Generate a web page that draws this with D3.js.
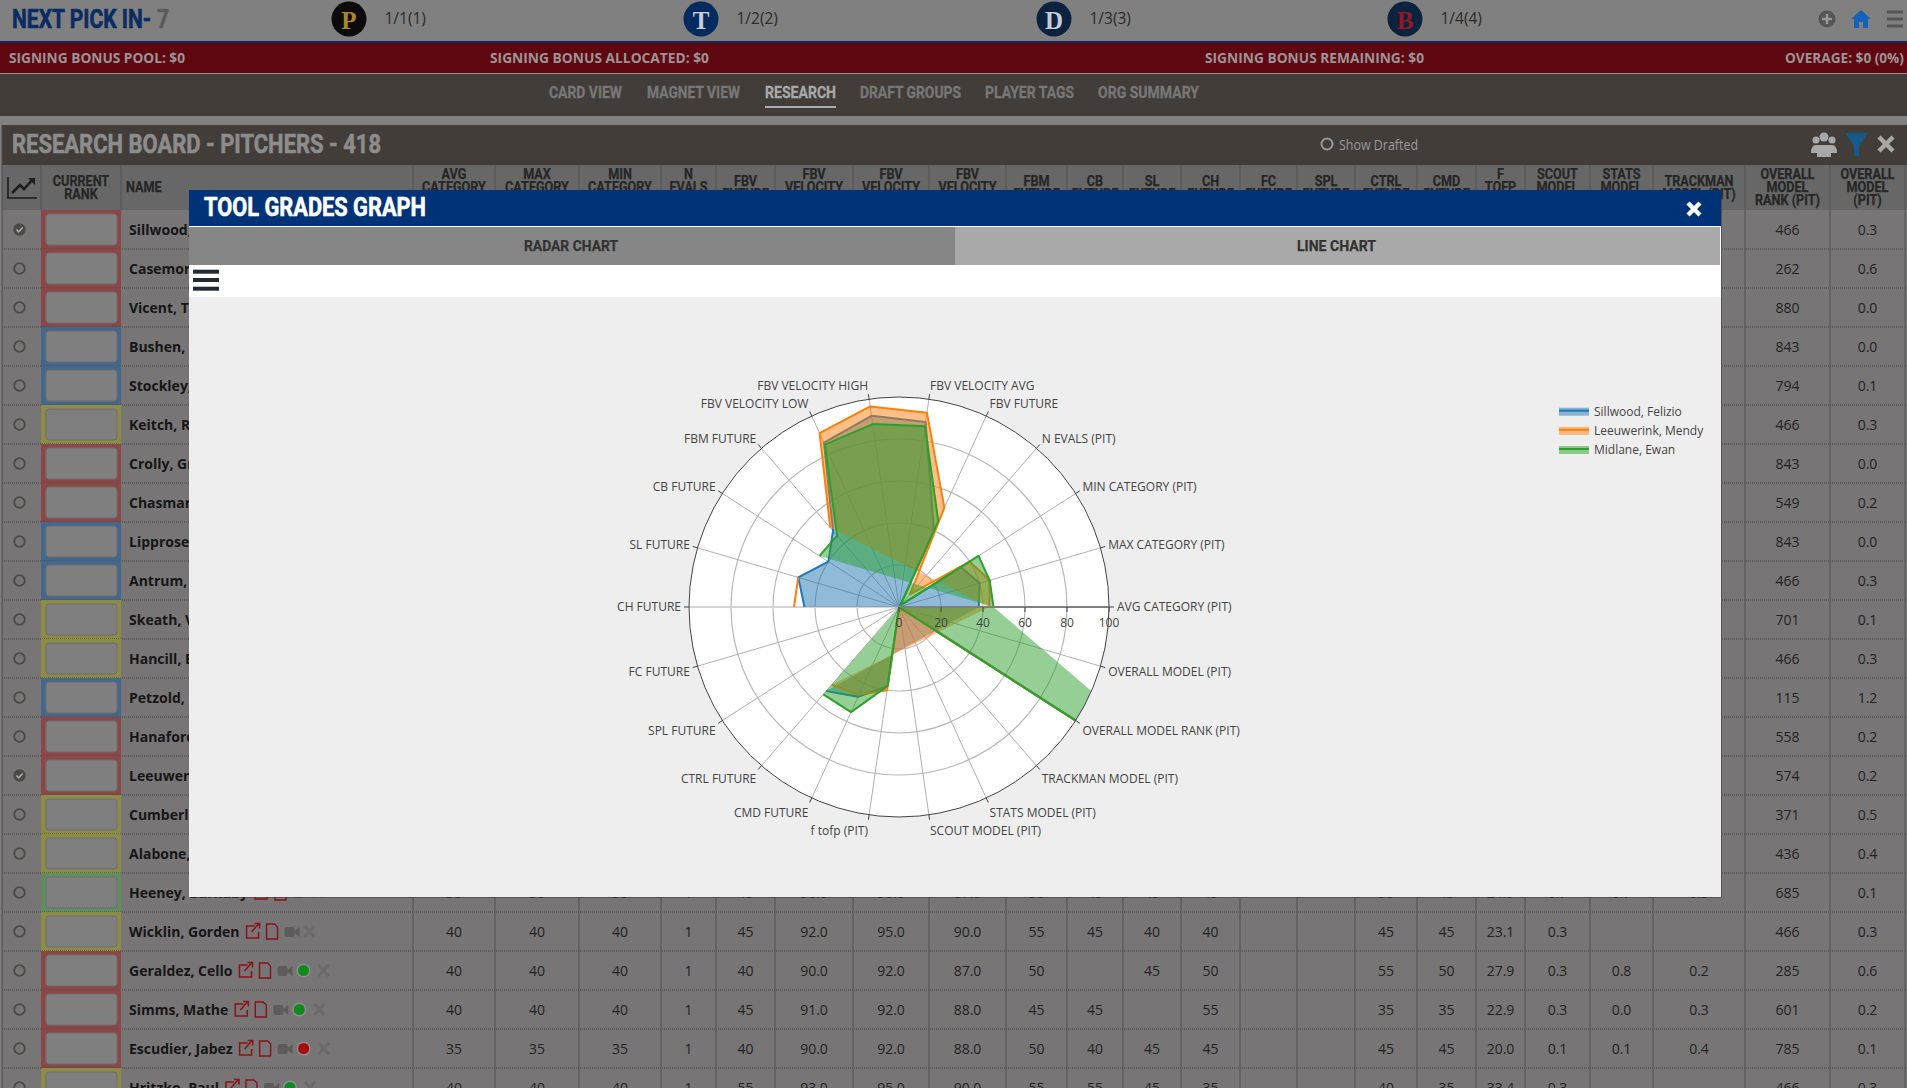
<!DOCTYPE html>
<html lang="en">
<head>
  <meta charset="UTF-8" />
  <title>Tool Grades Graph</title>
  <script src="https://d3js.org/d3.v7.min.js"></script>
  <style>
    body { margin: 0; overflow: hidden; background: #808080; }
    text { font-family: "Open Sans", sans-serif; }
    .cond { font-family: Roboto, sans-serif; font-weight: 700; }
  </style>
</head>
<body>
<svg id="page" width="1907" height="1088"></svg>
<script>
// ---- chart data ----
const categories = ["AVG CATEGORY (PIT)", "MAX CATEGORY (PIT)", "MIN CATEGORY (PIT)", "N EVALS (PIT)", "FBV FUTURE",
  "FBV VELOCITY AVG", "FBV VELOCITY HIGH", "FBV VELOCITY LOW", "FBM FUTURE", "CB FUTURE", "SL FUTURE", "CH FUTURE",
  "FC FUTURE", "SPL FUTURE", "CTRL FUTURE", "CMD FUTURE", "f tofp (PIT)", "SCOUT MODEL (PIT)", "STATS MODEL (PIT)",
  "TRACKMAN MODEL (PIT)", "OVERALL MODEL RANK (PIT)", "OVERALL MODEL (PIT)"];
const radialTicks = [0, 20, 40, 60, 80, 100];
const sillwood = [38, 40, 35, 1, 40, 89, 92, 86, 48, 40, 50, 45, null, null, 53, 47, 38, 0.3, 0.2, 0.3, 466, 0.3];
const leeuwerink = [43, 45, 40, 8, 52, 93.5, 96.5, 91, 50, null, 50, 50, null, null, 49, 46, 40, 0.2, 0.1, 0.2, 574, 0.2];
const midlane = [45, 45, 45, 1, 45, 87, 88, 85, 45, 45, null, null, null, null, 55, 55, 38, 0.3, 0.3, 0.3, 212, null];
const seriesNames = ["Sillwood, Felizio", "Leeuwerink, Mendy", "Midlane, Ewan"];
// which categories each filled ring runs through (0 again = the closing point)
const sillwoodRings = [[0, 1, 2, 3, 4, 5, 6, 7, 8, 9, 10, 11], [14, 15, 16, 17, 18, 19, 20, 21, 0]];
const leeuwerinkRings = [[0, 1, 2, 3, 4, 5, 6, 7, 8], [10, 11], [14, 15, 16, 17, 18, 19, 20, 21, 0]];
const midlaneRings = [[0, 1, 2, 3, 4, 5, 6, 7, 8, 9], [14, 15, 16, 17, 18], [19, 20, 0]];

// ---- page data ----
const headers = [["CURRENT", "RANK"], ["NAME"], ["AVG", "CATEGORY", "(PIT)"], ["MAX", "CATEGORY", "(PIT)"], ["MIN", "CATEGORY", "(PIT)"],
  ["N", "EVALS", "(PIT)"], ["FBV", "FUTURE"], ["FBV", "VELOCITY", "AVG"], ["FBV", "VELOCITY", "HIGH"], ["FBV", "VELOCITY", "LOW"],
  ["FBM", "FUTURE"], ["CB", "FUTURE"], ["SL", "FUTURE"], ["CH", "FUTURE"], ["FC", "FUTURE"], ["SPL", "FUTURE"], ["CTRL", "FUTURE"],
  ["CMD", "FUTURE"], ["F", "TOFP", "(PIT)"], ["SCOUT", "MODEL", "(PIT)"], ["STATS", "MODEL", "(PIT)"], ["TRACKMAN", "MODEL (PIT)"],
  ["OVERALL", "MODEL", "RANK (PIT)"], ["OVERALL", "MODEL", "(PIT)"]];
const rowNames = ["Sillwood, Felizio", "Casemor", "Vicent, T", "Bushen,", "Stockley,", "Keitch, R", "Crolly, Gr", "Chasmar", "Lipprose",
  "Antrum,", "Skeath, V", "Hancill, E", "Petzold,", "Hanaford", "Leeuwerink, Mendy", "Cumberl", "Alabone,", "Heeney, Barnaby",
  "Wicklin, Gorden", "Geraldez, Cello", "Simms, Mathe", "Escudier, Jabez", "Hritzko, Paul"];
const rowTiers = ["r", "r", "r", "b", "b", "y", "r", "r", "b", "b", "y", "y", "b", "r", "r", "y", "y", "g", "y", "r", "r", "r", "y"];
const rowChecked = [0, 14];
const rankValues = ["466", "262", "880", "843", "794", "466", "843", "549", "843", "466", "701", "466", "115", "558", "574", "371", "436",
  "685", "466", "285", "601", "785", "466"];
const modelValues = ["0.3", "0.6", "0.0", "0.0", "0.1", "0.3", "0.0", "0.2", "0.0", "0.3", "0.1", "0.3", "1.2", "0.2", "0.2", "0.5", "0.4",
  "0.1", "0.3", "0.6", "0.2", "0.1", "0.3"];
// rows whose middle columns show under the modal (row index, then AVG .. TRACKMAN)
const detailRows = [
  [17, "30", "30", "30", "1", "45", "90.0", "90.0", "87.0", "50", "45", "45", "45", "", "", "50", "45", "24.9", "0.7", "0.7", "0.3"],
  [18, "40", "40", "40", "1", "45", "92.0", "95.0", "90.0", "55", "45", "40", "40", "", "", "45", "45", "23.1", "0.3", "", ""],
  [19, "40", "40", "40", "1", "40", "90.0", "92.0", "87.0", "50", "", "45", "50", "", "", "55", "50", "27.9", "0.3", "0.8", "0.2"],
  [20, "40", "40", "40", "1", "45", "91.0", "92.0", "88.0", "45", "45", "", "55", "", "", "35", "35", "22.9", "0.3", "0.0", "0.3"],
  [21, "35", "35", "35", "1", "40", "90.0", "92.0", "88.0", "50", "40", "45", "45", "", "", "45", "45", "20.0", "0.1", "0.1", "0.4"],
  [22, "40", "40", "40", "1", "55", "93.0", "95.0", "90.0", "55", "55", "45", "35", "", "", "40", "35", "33.4", "0.3", "", ""]
];
const rowDots = { 19: "#0f8a1c", 20: "#0f8a1c", 21: "#a80808", 22: "#0f8a1c" };
const picks = ["1/1(1)", "1/2(2)", "1/3(3)", "1/4(4)"];
const pickLetters = ["P", "T", "D", "B"];
const bonusLabels = ["SIGNING BONUS POOL: $0", "SIGNING BONUS ALLOCATED: $0", "SIGNING BONUS REMAINING: $0", "OVERAGE: $0 (0%)"];
const navLabels = ["CARD VIEW", "MAGNET VIEW", "RESEARCH", "DRAFT GROUPS", "PLAYER TAGS", "ORG SUMMARY"];

// ---- layout ----
const svg = d3.select("#page");
const colEdges = [41, 121, 413, 495, 579, 661, 716, 775, 853, 929, 1006, 1067, 1123, 1181, 1240, 1297, 1355, 1417, 1476, 1525, 1590, 1653, 1745, 1830, 1905];
const rowTop = 210, rowH = 39;
const tierFill = { r: "#8b4648", b: "#44678c", y: "#8c8c46", g: "#5f8f60" };
const colCenter = i => (colEdges[i] + colEdges[i + 1]) / 2;
const rowY = d3.scaleLinear().domain([0, 1]).range([rowTop, rowTop + rowH]);

function rect(parent, x, y, w, h, fill) {
  return parent.append("rect").attr("x", x).attr("y", y).attr("width", w).attr("height", h).attr("fill", fill);
}
// condensed bold label, stretched to an exact pixel span
function squeezed(parent, str, x0, x1, cy, size, fill, weight) {
  return parent.append("text").attr("class", "cond")
    .attr("x", x0).attr("y", cy).attr("dominant-baseline", "central")
    .attr("font-size", size).attr("fill", fill)
    .attr("stroke", fill).attr("stroke-width", weight || 0)
    .attr("textLength", x1 - x0).attr("lengthAdjust", "spacingAndGlyphs").text(str);
}
function squeezeBy(sel, ratio) {
  sel.each(function () {
    this.setAttribute("lengthAdjust", "spacingAndGlyphs");
    this.setAttribute("textLength", this.getComputedTextLength() * ratio);
  });
}

// ---- top of the page, dimmed by the modal backdrop ----
const page = svg.append("g");
rect(page, 0, 0, 1907, 1088, "#808080");
rect(page, 0, 41, 1907, 2, "#0c2a58");
rect(page, 0, 43, 1907, 30, "#5f0710");
rect(page, 0, 73, 1907, 1, "#a08c8c");
rect(page, 0, 74, 1907, 42, "#433d3a");

squeezed(page, "NEXT PICK IN-", 12, 151, 19, 26, "#0a2c62", 0.6);
squeezed(page, "7", 157, 169, 19, 26, "#5a5a5a", 0.6);

const pickX = [349, 701, 1054, 1405];
const logoFill = ["#0b0b0b", "#052a5e", "#0b2340", "#0c2340"];
const logoInk = ["#a8862a", "#c9ccd4", "#c9ccd4", "#8e1a26"];
picks.forEach((p, i) => {
  page.append("circle").attr("cx", pickX[i]).attr("cy", 19).attr("r", 17.5).attr("fill", logoFill[i]);
  page.append("text").attr("x", pickX[i]).attr("y", 20).attr("text-anchor", "middle").attr("dominant-baseline", "central")
    .style("font-family", "'Liberation Serif', serif").attr("font-weight", 700).attr("font-size", 25).attr("fill", logoInk[i]).text(pickLetters[i]);
  page.append("text").attr("x", pickX[i] + 35.5).attr("y", 18).attr("dominant-baseline", "central")
    .attr("font-size", 15.5).attr("fill", "#2b2b2b").text(p);
});

// plus, home and menu icons
page.append("circle").attr("cx", 1827).attr("cy", 19).attr("r", 8.5).attr("fill", "#555");
page.append("path").attr("d", "M1827 14v10M1822 19h10").attr("stroke", "#999").attr("stroke-width", 2.5);
page.append("path").attr("d", "M1861 10l10 9h-3v9h-5v-6h-4v6h-5v-9h-3z").attr("fill", "#1463b4");
[12, 19, 26].forEach(y => rect(page, 1887, y - 1.5, 16, 3, "#555"));

const bonusSpans = [[9, 185], [490, 709], [1205, 1424], [1785, 1904]];
bonusLabels.forEach((t, i) => {
  page.append("text").attr("x", bonusSpans[i][0]).attr("y", 57).attr("dominant-baseline", "central")
    .attr("font-weight", 700).attr("font-size", 15).attr("fill", "#9c9496")
    .attr("textLength", bonusSpans[i][1] - bonusSpans[i][0]).attr("lengthAdjust", "spacingAndGlyphs").text(t);
});

const navSpans = [[549, 622], [647, 740], [765, 836], [860, 961], [985, 1074], [1098, 1199]];
navLabels.forEach((t, i) => squeezed(page, t, navSpans[i][0], navSpans[i][1], 92, 16, i === 2 ? "#a8a8a8" : "#777", 0.3));
rect(page, 765, 106, 71, 2, "#aaa");

// research board header
rect(page, 2, 125, 1905, 40, "#433d3a");
squeezed(page, "RESEARCH BOARD - PITCHERS - 418", 12, 381, 144, 26, "#8c8c8c", 0.6);
page.append("circle").attr("cx", 1327).attr("cy", 144).attr("r", 5.5).attr("fill", "none").attr("stroke", "#999").attr("stroke-width", 2);
page.append("text").attr("x", 1339).attr("y", 144).attr("dominant-baseline", "central").attr("font-size", 14)
  .attr("fill", "#999").attr("textLength", 79).attr("lengthAdjust", "spacingAndGlyphs").text("Show Drafted");
page.append("g").attr("fill", "#a8a8a8").call(g => {
  [[1824, 137, 4.5], [1816, 140, 3.5], [1832, 140, 3.5]].forEach(c => g.append("circle").attr("cx", c[0]).attr("cy", c[1]).attr("r", c[2]));
  g.append("path").attr("d", "M1811 153q0-8 5-8h16q5 0 5 8zM1817 157v-10h14v10z");
});
page.append("path").attr("d", "M1845 133h23l-9 13v10l-5 0v-10z").attr("fill", "#155a88");
page.append("path").attr("d", "M1879 137l14 14M1893 137l-14 14").attr("stroke", "#a8a8a8").attr("stroke-width", 4.5);

// table body
rect(page, 2, 165, 1905, 45, "#676767");
rect(page, 2, rowTop, 1905, 1088 - rowTop, "#777576");
const headG = page.append("g");
headers.forEach((lines, c) => {
  const top = 187.7 - (lines.length - 1) * 6.5;
  const label = headG.selectAll(null).data(lines).join("text").attr("class", "cond")
    .attr("x", c === 1 ? 126 : colCenter(c)).attr("y", (d, i) => top + i * 13).attr("text-anchor", c === 1 ? "start" : "middle")
    .attr("dominant-baseline", "central").attr("font-size", 14.5).attr("fill", "#262626").attr("stroke", "#262626").attr("stroke-width", 0.25).text(d => d);
  squeezeBy(label, 0.87);
});
// trend icon in the first header cell
page.append("path").attr("d", "M8 177v21h29").attr("fill", "none").attr("stroke", "#1d1d1d").attr("stroke-width", 1.6);
page.append("path").attr("d", "M12 193l8-8 4 4 9-10").attr("fill", "none").attr("stroke", "#1d1d1d").attr("stroke-width", 2.6);
page.append("path").attr("d", "M28 178h7v7z").attr("fill", "#1d1d1d");

const rows = page.append("g").selectAll("g").data(rowNames).join("g")
  .attr("transform", (d, i) => `translate(0,${rowY(i)})`);
rows.append("rect").attr("x", colEdges[0]).attr("y", 0).attr("width", colEdges[1] - colEdges[0]).attr("height", rowH)
  .attr("fill", (d, i) => tierFill[rowTiers[i]]);
rows.append("rect").attr("x", 46).attr("y", 4).attr("width", 71).attr("height", 31).attr("rx", 3)
  .attr("fill", "#7f7f7f").attr("stroke", "#6e6e6e");
rows.append("line").attr("x1", 2).attr("x2", 1905).attr("y1", rowH).attr("y2", rowH)
  .attr("stroke", "#444").attr("stroke-dasharray", "1 1");
rows.append("circle").attr("cx", 19.5).attr("cy", rowH / 2).attr("r", 5.3)
  .attr("fill", (d, i) => rowChecked.includes(i) ? "#4a4a4a" : "none").attr("stroke", "#4d4a48").attr("stroke-width", 1.8);
rows.filter((d, i) => rowChecked.includes(i)).append("path").attr("d", "M16.5 19.5l2.2 2.3 4-4.3")
  .attr("fill", "none").attr("stroke", "#aaa").attr("stroke-width", 1.6);
const nameText = rows.append("text").attr("x", 129).attr("y", rowH / 2).attr("dominant-baseline", "central")
  .attr("font-weight", 700).attr("font-size", 14).attr("fill", "#161616").text(d => d);
rows.append("text").attr("x", colCenter(22)).attr("y", rowH / 2).attr("text-anchor", "middle").attr("dominant-baseline", "central")
  .attr("font-size", 14).attr("fill", "#232323").text((d, i) => rankValues[i]);
rows.append("text").attr("x", colCenter(23)).attr("y", rowH / 2).attr("text-anchor", "middle").attr("dominant-baseline", "central")
  .attr("font-size", 14).attr("fill", "#232323").text((d, i) => modelValues[i]);

// small icons behind the names of the lower rows
nameText.each(function (d, i) {
  if (i < 17) return;
  const g = d3.select(this.parentNode);
  let x = 129 + this.getComputedTextLength() + 6;
  g.append("path").attr("d", `M${x + 9} 14h-8v12h12v-6M${x + 6} 20l7-8M${x + 9} 11.5h5v5`)
    .attr("fill", "none").attr("stroke", "#8c1216").attr("stroke-width", 1.5);
  x += 21;
  g.append("path").attr("d", `M${x} 12h8l3 3v12h-11z`).attr("fill", "none").attr("stroke", "#8c1216").attr("stroke-width", 1.4);
  x += 18;
  g.append("rect").attr("x", x).attr("y", 15).attr("width", 10).attr("height", 10).attr("rx", 2).attr("fill", "#5c5c5c");
  g.append("path").attr("d", `M${x + 10} 19l5-4v10l-5-4z`).attr("fill", "#5c5c5c");
  x += 19;
  if (rowDots[i]) {
    g.append("circle").attr("cx", x + 7).attr("cy", rowH / 2).attr("r", 7).attr("fill", "#8e8e8e");
    g.append("circle").attr("cx", x + 7).attr("cy", rowH / 2).attr("r", 5.5).attr("fill", rowDots[i]);
    x += 21;
  }
  g.append("path").attr("d", `M${x + 1} 14l10 11M${x + 11} 14l-10 11`).attr("stroke", "#6a6a6a").attr("stroke-width", 3);
});

// detail cells
detailRows.forEach(row => {
  const r = row[0];
  row.slice(1).forEach((v, c) => {
    page.append("text").attr("x", colCenter(c + 2)).attr("y", rowY(r) + rowH / 2).attr("text-anchor", "middle")
      .attr("dominant-baseline", "central").attr("font-size", 14).attr("fill", "#232323").text(v);
  });
});
// column rules
page.append("g").selectAll("line").data(colEdges.slice(2)).join("line")
  .attr("x1", d => d).attr("x2", d => d).attr("y1", 165).attr("y2", 1088).attr("stroke", "#555");
page.append("line").attr("x1", 2).attr("x2", 2).attr("y1", 125).attr("y2", 1088).attr("stroke", "#4a4a4a");
page.append("line").attr("x1", 41).attr("x2", 41).attr("y1", 165).attr("y2", 210).attr("stroke", "#555");
page.append("line").attr("x1", 121).attr("x2", 121).attr("y1", 165).attr("y2", 210).attr("stroke", "#555");

// ---- modal ----
const modal = svg.append("g");
rect(modal, 190, 192, 1532, 706, "#333").attr("opacity", 0.5);
rect(modal, 189, 190, 1532, 37, "#003278");
rect(modal, 189, 226, 1532, 1, "#fff");
squeezed(modal, "TOOL GRADES GRAPH", 204, 426, 207, 26, "#fff", 0.6);
modal.append("path").attr("d", "M1688 203l12 12M1700 203l-12 12").attr("stroke", "#fff").attr("stroke-width", 4.5);
rect(modal, 189, 227, 766, 38, "#868686");
rect(modal, 955, 227, 765, 38, "#a9a9a9");
rect(modal, 1720, 227, 1, 38, "#fff");
squeezed(modal, "RADAR CHART", 524, 618, 245.5, 15, "#333", 0.25);
squeezed(modal, "LINE CHART", 1297, 1376, 245.5, 15, "#333", 0.25);
rect(modal, 189, 265, 1532, 32, "#fff");
[271.7, 280, 288.7].forEach(y => rect(modal, 193, y - 2, 26, 4, "#222a33"));
rect(modal, 189, 297, 1532, 600, "#eeeeee");

// ---- radar chart ----
const cx = 899, cy = 607;
const r = d3.scaleLinear().domain([0, 100]).range([0, 210]);
const theta = d3.scaleLinear().domain([0, categories.length]).range([0, 2 * Math.PI]);
const radar = modal.append("g").attr("transform", `translate(${cx},${cy})`);
const spokeX = (i, len) => len * Math.cos(theta(i));
const spokeY = (i, len) => -len * Math.sin(theta(i));

radar.append("circle").attr("r", r(100)).attr("fill", "#fff");
radar.append("g").selectAll("circle").data(radialTicks.slice(1, -1)).join("circle")
  .attr("r", d => r(d)).attr("fill", "none").attr("stroke", "#b8b8b8").attr("stroke-width", 1.2);
radar.append("g").selectAll("line").data(d3.range(categories.length)).join("line")
  .attr("x2", i => spokeX(i, r(100))).attr("y2", i => spokeY(i, r(100)))
  .attr("stroke", i => i === 11 ? "#d4d4d4" : "#b0b0b0").attr("stroke-width", i => i === 11 ? 2.2 : 1);

radar.append("clipPath").attr("id", "polar-clip").append("circle").attr("r", r(100));
const traces = radar.append("g").attr("clip-path", "url(#polar-clip)");
const seriesList = [
  { values: sillwood, rings: sillwoodRings, color: "#1f77b4" },
  { values: leeuwerink, rings: leeuwerinkRings, color: "#ff7f0e" },
  { values: midlane, rings: midlaneRings, color: "#2ca02c" }
];
seriesList.forEach(s => {
  const radial = d3.lineRadial()
    .angle(i => Math.PI / 2 - theta(i))
    .radius(i => r(s.values[i]));
  const fillPath = s.rings.map(ring => radial(ring) + "Z").join("");
  traces.append("path").attr("d", fillPath).attr("fill", s.color).attr("fill-opacity", 0.5);
  // strokes stop at the gaps, and the trace closes on its first category
  const closed = d3.range(categories.length + 1);
  const stroke = radial.defined(i => s.values[i % categories.length] !== null)
    .radius(i => r(s.values[i % categories.length]));
  traces.append("path").attr("d", stroke(closed)).attr("fill", "none").attr("stroke", s.color)
    .attr("stroke-width", 2).attr("stroke-linejoin", "round");
});

// axes above the traces
radar.append("circle").attr("r", r(100)).attr("fill", "none").attr("stroke", "#444").attr("stroke-width", 1);
radar.append("g").selectAll("line").data(d3.range(categories.length)).join("line")
  .attr("x1", i => spokeX(i, r(100))).attr("y1", i => spokeY(i, r(100)))
  .attr("x2", i => spokeX(i, r(100) + 5)).attr("y2", i => spokeY(i, r(100) + 5))
  .attr("stroke", "#444");
radar.append("line").attr("x2", r(100)).attr("stroke", "#808080").attr("stroke-width", 2.2);
radar.append("g").selectAll("line").data(radialTicks).join("line")
  .attr("x1", d => r(d)).attr("x2", d => r(d)).attr("y1", 0).attr("y2", 5).attr("stroke", "#444");
radar.append("g").selectAll("text").data(radialTicks).join("text")
  .attr("x", d => r(d)).attr("y", 15).attr("text-anchor", "middle").attr("dominant-baseline", "central")
  .attr("font-size", 12).attr("fill", "#444").text(d => d);

radar.append("g").selectAll("text").data(categories).join("text")
  .attr("x", (d, i) => spokeX(i, r(100) + 5) + 3 * Math.cos(theta(i)))
  .attr("y", (d, i) => {
    const s = Math.sin(theta(i));
    const shift = s > 0.01 ? -0.8 - 8 * Math.pow(s, 1.5) : 11 * Math.pow(Math.abs(s), 0.75) - 0.8 * (Math.abs(s) < 0.01);
    return spokeY(i, r(100) + 5) + shift;
  })
  .attr("text-anchor", (d, i) => Math.cos(theta(i)) > 0 ? "start" : "end")
  .attr("dominant-baseline", "central").attr("font-size", 12).attr("fill", "#444").text(d => d);

// legend
const legendY = d3.scalePoint().domain(seriesNames).range([411.7, 450]);
const legend = modal.append("g").selectAll("g").data(seriesNames).join("g")
  .attr("transform", d => `translate(1559,${legendY(d)})`);
legend.append("rect").attr("width", 30).attr("y", -4).attr("height", 8)
  .attr("fill", (d, i) => seriesList[i].color).attr("fill-opacity", 0.5);
legend.append("line").attr("x2", 30).attr("y1", -1).attr("y2", -1).attr("stroke", (d, i) => seriesList[i].color).attr("stroke-width", 2);
legend.append("text").attr("x", 35).attr("y", -0.7).attr("dominant-baseline", "central").attr("font-size", 12).attr("fill", "#444").text(d => d);
</script>
</body>
</html>
